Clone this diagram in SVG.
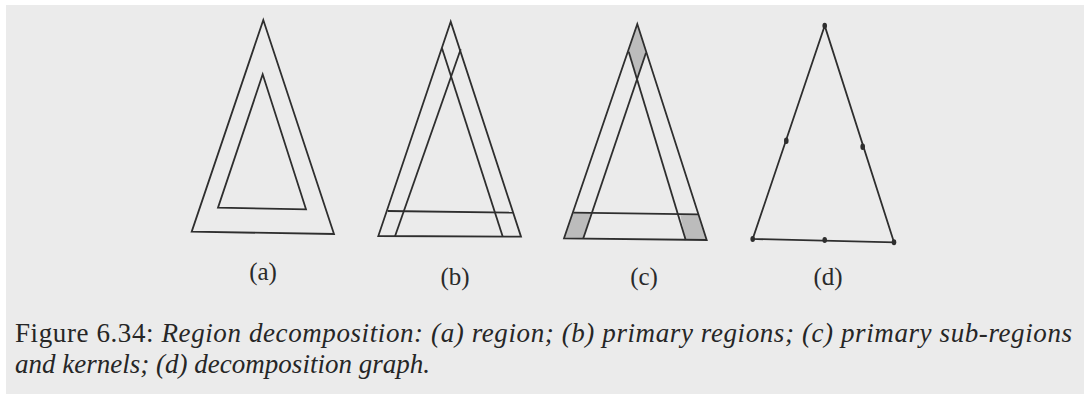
<svg xmlns="http://www.w3.org/2000/svg" width="1084" height="394" viewBox="0 0 1084 394">
<style>
.ln{fill:none;stroke:#2e2e2e;stroke-width:1.8;stroke-linejoin:miter}
.sh{fill:#bcbcbc;stroke:none}
.dot{fill:#2e2e2e}
.lbl{font-family:"Liberation Serif",serif;font-size:25px;fill:#2a2a2a;text-anchor:middle}
.cap{font-family:"Liberation Serif",serif;font-size:27px;fill:#262626}
.it{font-style:italic}
</style>
<rect width="1084" height="394" fill="#ffffff"/>
<rect x="6" y="5" width="1078" height="389" fill="#ebebeb"/>
<g id="a">
<polygon class="ln" points="263.3,20 191.7,231.7 334,234"/>
<polygon class="ln" points="262.7,74.3 218,207.7 306,209.3"/>
<text class="lbl" x="263" y="280">(a)</text>
</g>
<g id="b">
<polygon class="ln" points="450.7,21.7 378.3,236 521,236.7"/>
<line class="ln" x1="442" y1="48.3" x2="502.7" y2="236.5"/>
<line class="ln" x1="460.7" y1="49.3" x2="395" y2="236.2"/>
<line class="ln" x1="387.7" y1="211" x2="514" y2="212.7"/>
<text class="lbl" x="455" y="285">(b)</text>
</g>
<g id="c">
<polygon class="sh" points="637.3,24 628.7,51.7 637.3,78.3 646,52.7"/>
<polygon class="sh" points="573.3,212.7 590.7,213 583.3,238.3 564,238.3"/>
<polygon class="sh" points="680,214 698.7,214.3 706.7,240 685.7,240"/>
<polygon class="ln" points="637.3,24 564,238.3 706.7,240"/>
<line class="ln" x1="628.7" y1="51.7" x2="685.7" y2="240"/>
<line class="ln" x1="646" y1="52.7" x2="583.3" y2="238.3"/>
<line class="ln" x1="573.3" y1="212.7" x2="698.7" y2="214.3"/>
<text class="lbl" x="644" y="285">(c)</text>
</g>
<g id="d">
<polygon class="ln" points="824.7,25.7 752.7,239 894,242.3"/>
<ellipse class="dot" cx="824.7" cy="25.7" rx="2.3" ry="3"/>
<ellipse class="dot" cx="786.3" cy="140.7" rx="2.3" ry="3.2"/>
<ellipse class="dot" cx="862.7" cy="146.7" rx="2.3" ry="3.2"/>
<ellipse class="dot" cx="752.7" cy="239" rx="2.3" ry="3"/>
<ellipse class="dot" cx="824.7" cy="240" rx="2.3" ry="3"/>
<ellipse class="dot" cx="894" cy="242.3" rx="2.3" ry="3"/>
<text class="lbl" x="828" y="285">(d)</text>
</g>
<g id="caption">
<text class="cap" x="15" y="342" textLength="1057" lengthAdjust="spacing">Figure 6.34: <tspan class="it">Region decomposition: (a) region; (b) primary regions; (c) primary sub-regions</tspan></text>
<text class="cap it" x="15" y="373" textLength="415" lengthAdjust="spacing">and kernels; (d) decomposition graph.</text>
</g>
</svg>
